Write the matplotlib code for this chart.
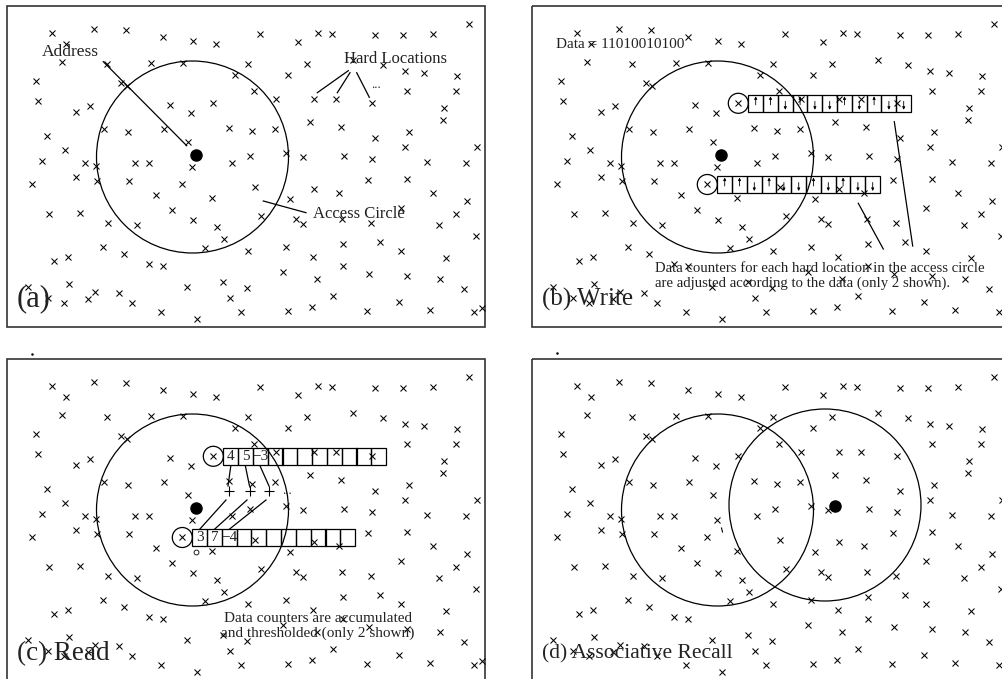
import matplotlib
matplotlib.use("Agg")
import matplotlib.pyplot as plt
from matplotlib.patches import Circle, Rectangle
import numpy as np

# ---------------- data (panel-local coordinates, panel (a) frame at (7,6)) ----
hard_x = [51.7, 94, 126, 162.7, 193.3, 216, 66, 61.7, 106.7, 150.7, 183.3, 248, 235, 36,
          120.7, 126.7, 37.7, 76, 90, 170, 213.3, 191, 104.3, 128.3, 164.3, 229.3, 46.7, 65,
          187.7, 42.3, 85, 96, 135, 149.3, 192.3, 232.3, 250,
          31.7, 76, 97.3, 129, 181.7, 155.7, 212.3, 49, 80, 172.3, 107.7, 137.3, 193.3, 216.7,
          224, 102.7, 124, 205, 248.3, 54, 68.3, 149, 162.7, 28.3, 69.3, 95, 119.3, 186.7,
          222.7, 246.7, 48.3, 132.3, 230, 64.3, 87.7, 160.7, 197.3, 240.7,
          260, 297.7, 317.7, 331.7, 375, 403.3, 433.3, 469, 306.7, 288.3, 353.3, 382.7, 405,
          424.3, 456.7, 254.3, 276, 314, 335.7, 371.7, 406.7, 455.7, 444.3, 443.3, 310, 341,
          252.3, 275, 375, 409.3, 405, 477.3, 286, 303.3, 344.3, 371.7, 427.3, 466,
          255, 290, 261, 296, 303.3, 314, 339.3, 368.3, 407.3, 432.7, 466.7, 456, 401, 342.3,
          371, 439.3, 476, 285.7, 342.7, 380, 400.7, 313.3, 446, 282.7, 342.7, 317.3, 369,
          406.7, 440, 464, 332.7, 399.3, 288.3, 311.7, 366.7, 430, 474.3, 481.7]
hard_y = [33.3, 29.3, 30, 36.7, 41, 44.3, 44.3, 62, 64.3, 63.3, 63.3, 64.2, 75.3, 80.7,
          82.7, 86.3, 100.7, 112.3, 106, 105, 103.3, 112.7, 129, 131.7, 129.3, 127.7, 135.7, 150,
          142.3, 160.7, 163.3, 165.7, 163.3, 162.7, 166.7, 163.3, 156,
          184, 176.7, 180.7, 181, 184, 195, 197.7, 214, 212.7, 210, 223.3, 225, 220, 226.7,
          239, 246.7, 254.3, 248.3, 250.5, 261, 256.7, 264, 266, 287.3, 284, 291.7, 292.7, 287.3,
          282.3, 288, 298.3, 302.7, 297.7, 302.7, 299, 311.7, 319.3, 311.7,
          34.3, 41.7, 33.3, 34.3, 35, 35, 34, 24, 64.3, 75, 60, 65, 71,
          73.3, 75.7, 90.7, 99, 99.3, 99, 103.3, 91, 91, 108.3, 120, 121.7, 126.7,
          131, 129, 137.7, 132.3, 146.7, 146.7, 153.3, 156.7, 155.7, 159.3, 161.7, 162.7,
          186.7, 199.3, 216, 219.3, 224.3, 189, 192.7, 180, 179.3, 192.7, 201, 214.3, 208.3, 219,
          222.7, 225, 236, 247.3, 244, 242.3, 251, 256.7, 257.7, 272.3, 266, 279.3, 274.3,
          275.7, 279.3, 289.3, 296, 301.7, 311, 306.7, 310.7, 310, 311.7, 307.7]

panel_dx = [0, 525, 0, 525]
panel_dy = [0, 0, 353, 353]
panel_labels = ["(a)", "(b) Write", "(c) Read", "(d) Associative Recall"]
label_sizes = [22, 18, 19.5, 15.5]

address = (196, 155)          # address point (filled dot)
circle_center = (192.5, 157)
circle_r = 96
recall_address = (310, 153)    # panel (d) second address
recall_center = (300, 152)

data_bits = [1, 1, 0, 1, 0, 0, 1, 0, 1, 0, 0]
counter_locs = [(213.3, 103.3), (182.3, 184.5)]   # the two hard locations shown
read_values = [[4, 5, -3], [3, 7, -4]]

# ---------------- figure ----------------
W, H = 1003, 679
fig = plt.figure(figsize=(W / 100, H / 100), dpi=100)
ax = fig.add_axes([0, 0, 1, 1])
ax.set_xlim(0, W)
ax.set_ylim(H, 0)
ax.axis('off')

FONT = ['Liberation Serif', 'DejaVu Serif']
TXT = '#222222'
LW = 0.9

hx = np.array(hard_x)
hy = np.array(hard_y)

cell_w, cell_h = 14.8, 16.5

def counter(dx, dy, loc, n=11):
    cx, cy = loc[0] + dx, loc[1] + dy
    ax.add_patch(Circle((cx, cy), 10, fill=False, lw=LW, color='k'))
    left = cx + 10
    for i in range(n):
        ax.add_patch(Rectangle((left + i * cell_w, cy - cell_h / 2), cell_w, cell_h,
                               fill=False, lw=LW, ec='k'))
    return left, cy

for p in range(4):
    dx, dy = panel_dx[p], panel_dy[p]
    # frame
    ax.add_patch(Rectangle((7 + dx, 6 + dy), 478, 321, fill=False, lw=1.2, ec='#333333'))
    # hard locations
    ax.plot(hx + dx, hy + dy, 'x', ms=5, mew=0.75, color='k', ls='none')
    # access circle
    ax.add_patch(Circle((circle_center[0] + dx, circle_center[1] + dy), circle_r,
                        fill=False, lw=LW, ec='k'))
    if p != 3:
        ax.plot(address[0] + dx, address[1] + dy, 'o', ms=8, color='k')
    ax.text(17 + dx, 299 + dy + (2 if p >= 2 else 0), panel_labels[p],
            fontsize=label_sizes[p], family=FONT, color=TXT, ha='left', va='center')

# ---- panel (a) annotations ----
ax.text(70.5, 51.7, "Address", fontsize=12.5, family=FONT, color=TXT, ha='center', va='center')
ax.plot([103.3, 186.7], [61.7, 145.7], color='k', lw=LW)
ax.text(344.3, 59.3, "Hard Locations", fontsize=12, family=FONT, color=TXT, ha='left', va='center')
for (x0, y0, x1, y1) in [(348.3, 70.7, 317.3, 92.7), (350, 72.7, 337.3, 92.7),
                         (356.7, 72.7, 369.3, 97.3)]:
    ax.plot([x0, x1], [y0, y1], color='k', lw=LW)
ax.text(375.7, 85, "...", fontsize=9, family=FONT, color=TXT, ha='center', va='center')
ax.text(312.7, 214.3, "Access Circle", fontsize=12, family=FONT, color=TXT, ha='left', va='center')
ax.plot([263.3, 306], [201, 212.7], color='k', lw=LW)

# ---- panel (b) Write ----
dx, dy = panel_dx[1], panel_dy[1]
ax.text(31 + dx, 44.3 + dy, "Data = " + "".join(str(b) for b in data_bits), fontsize=11,
        family=FONT, color=TXT, ha='left', va='center')
for loc in counter_locs:
    left, cy = counter(dx, dy, loc)
    for i, b in enumerate(data_bits):
        x = left + (i + 0.5) * cell_w
        if b:
            tail, tip = cy + 1.5, cy - 7
        else:
            tail, tip = cy - 2, cy + 6.5
        ax.annotate('', xy=(x, tip), xytext=(x, tail),
                    arrowprops=dict(arrowstyle='-|>', lw=0.6, color='k',
                                    mutation_scale=4, shrinkA=0, shrinkB=0))
ax.plot([369.3 + dx, 387.7 + dx], [121.7, 246], color='k', lw=LW)
ax.plot([333.3 + dx, 358.3 + dx], [203.3, 249], color='k', lw=LW)
ax.text(130 + dx, 268.3, "Data counters for each hard location in the access circle",
        fontsize=10.6, family=FONT, color=TXT, ha='left', va='center')
ax.text(130 + dx, 283.3, "are adjusted according to the data (only 2 shown).",
        fontsize=10.6, family=FONT, color=TXT, ha='left', va='center')

# ---- panel (c) Read ----
dx, dy = panel_dx[2], panel_dy[2]
lefts = []
for loc, vals in zip(counter_locs, read_values):
    left, cy = counter(dx, dy, loc)
    lefts.append((left, cy))
    for i, v in enumerate(vals):
        ax.text(left + (i + 0.5) * cell_w, cy, str(v).replace('-', '\u2212'), fontsize=11,
                family=FONT, color=TXT, ha='center', va='center')
plus_x = [229, 250, 269]
plus_y = 491 - dy
(ul, uc), (ll, lc) = lefts
for i, px in enumerate(plus_x):
    ux = ul + (i + 0.5) * cell_w
    ax.plot([ux, px - 1 + i * 0.5], [uc + cell_h / 2 + 2, plus_y + dy - 5], color='k', lw=LW)
    lx = ll + (i + 0.5) * cell_w
    ax.plot([lx, px - 3], [lc - cell_h / 2, plus_y + dy + 9], color='k', lw=LW)
    ax.plot(px, plus_y + dy, '+', ms=7, mew=0.8, color='k')
ax.text(287, plus_y + dy, "...", fontsize=9, family=FONT, color=TXT, ha='center', va='center')
ax.plot(195.7, 551.7, 'o', ms=3.5, mfc='none', mec='k', mew=0.6)
ax.text(318, 265.3 + dy, "Data counters are accumulated",
        fontsize=11, family=FONT, color=TXT, ha='center', va='center')
ax.text(318, 280.3 + dy, "and thresholded (only 2 shown)",
        fontsize=11, family=FONT, color=TXT, ha='center', va='center')

# ---- panel (d) Associative recall ----
dx, dy = panel_dx[3], panel_dy[3]
ax.add_patch(Circle((recall_center[0] + dx, recall_center[1] + dy), circle_r,
                    fill=False, lw=LW, ec='k'))
ax.plot(recall_address[0] + dx, recall_address[1] + dy, 'o', ms=8, color='k')
ax.plot([722 - 0.5, 722 + 0.5], [528, 532], color='k', lw=0.8)

# tiny stray dots above lower panels
ax.plot([32, 557], [354, 353], 'o', ms=0.8, color='k')

fig.savefig("out.png", dpi=100)
